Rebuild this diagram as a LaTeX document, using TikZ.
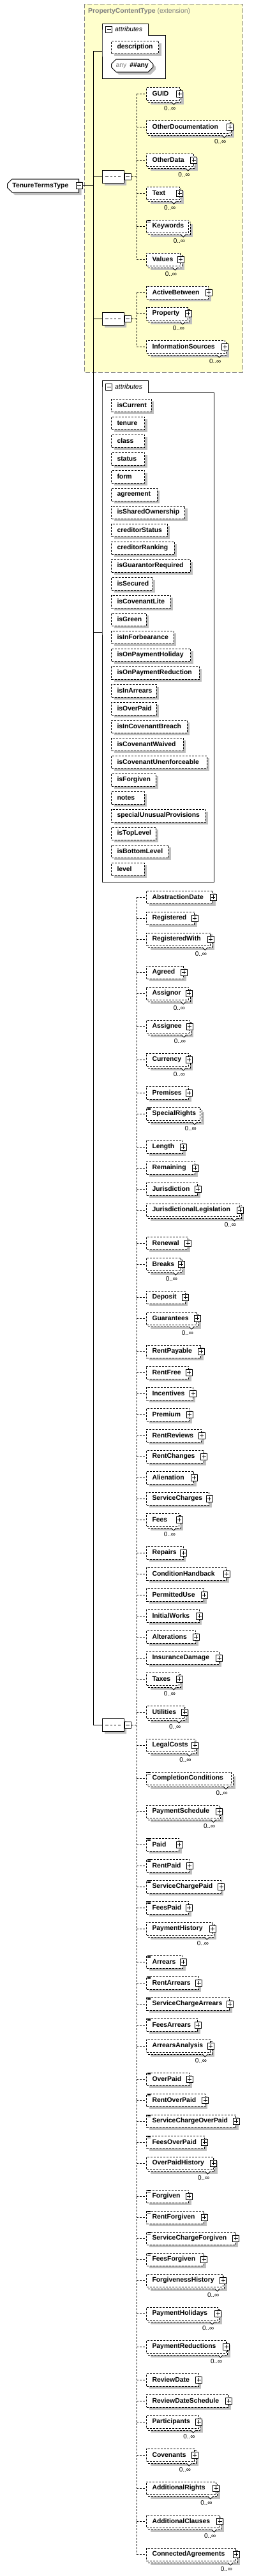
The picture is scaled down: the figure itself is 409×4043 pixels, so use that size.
\documentclass[tikz,border=0pt]{standalone}
\usepackage{tikz}
\usepackage{xcolor}
\usepackage{fontspec}
\setmainfont{Liberation Sans}
\usetikzlibrary{shapes.misc, positioning, calc, shadows}

\definecolor{shadegray}{RGB}{192,192,192}
\definecolor{extyellow}{RGB}{255,255,204}
\definecolor{extgray}{RGB}{128,128,128}

% optional element with its expand box
\newcommand{\elone}[3]{%
  \pgfmathsetmacro\ew{#3-247}
  \node[elem] (#1) at (229,#2) {\makebox[\ew pt][l]{#1}};
  \node[plusbox] (#1p) at (#1.east) {};
}
% repeated element (0..unbounded), no expand box
\newcommand{\elmany}[3]{%
  \pgfmathsetmacro\ew{#3-247}
  \fill[shadegray] (236,#2-3) rectangle (#3+7,#2+17);
  \draw[backbox] (232,#2-7) rectangle (#3+3,#2+13);
  \draw[notch] (#3-12,#2+13) -- (#3-8,#2+17) -- (#3-4,#2+13);
  \node[elemtop] (#1) at (229,#2) {\makebox[\ew pt][l]{#1}};
  \node[occurs] (#1o) at (#3-5,#2+23) {0..∞};
}
% repeated element with expand box
\newcommand{\elmanyplus}[3]{\elmany{#1}{#2}{#3}\node[plusbox] (#1p) at (#1.east) {};}
% simple content mark
\newcommand{\simplemark}[1]{%
  \foreach \dy in {0.5,2,3.5}
    \draw[icon] ([shift={(2,\dy)}]#1.north west) -- ++(5,0);
}
% attribute
\newcommand{\attrib}[3]{%
  \pgfmathsetmacro\aw{#3-192}
  \node[elem] (#1) at (174,#2) {\makebox[\aw pt][l]{#1}};
}

\begin{document}
\begin{tikzpicture}[x=1pt, y=-1pt]
    \tikzstyle{conn} = [line width=1pt]
    \tikzstyle{dashy} = [line width=1pt, dash pattern=on 3pt off 2pt]
    \tikzstyle{boxbase} = [draw, fill=white, anchor=west, minimum height=20pt, inner xsep=9pt, inner ysep=0pt, font=\fontsize{10.4}{12}\selectfont\bfseries]
    \tikzstyle{elemtop} = [boxbase, dashy]
    \tikzstyle{elem} = [elemtop, general shadow={fill=shadegray, shadow xshift=4pt, shadow yshift=-4pt}]
    \tikzstyle{backbox} = [dashy, fill=white]
    \tikzstyle{notch} = [line width=0.8pt, fill=white]
    \tikzstyle{occurs} = [anchor=east, inner sep=0pt, font=\fontsize{10}{12}\selectfont]
    \tikzstyle{icon} = [line width=0.6pt]
    \tikzstyle{plusbox} = [draw, fill=white, conn, minimum size=10pt, inner sep=0pt, path picture={\draw[conn] ([xshift=-3pt]path picture bounding box.center) -- ([xshift=3pt]path picture bounding box.center) ([yshift=-3pt]path picture bounding box.center) -- ([yshift=3pt]path picture bounding box.center);}]
    \tikzstyle{minusbox} = [draw, fill=white, conn, minimum size=10pt, inner sep=0pt, path picture={\draw[conn] ([xshift=-3pt]path picture bounding box.center) -- ([xshift=3pt]path picture bounding box.center);}]
    \tikzstyle{seqbox} = [chamfered rectangle, chamfered rectangle xsep=5pt, draw, fill=white, conn, minimum width=34pt, minimum height=20pt, inner sep=0pt, general shadow={fill=shadegray, shadow xshift=4pt, shadow yshift=-4pt}, path picture={\draw[conn] ([xshift=-12pt]path picture bounding box.center) -- ([xshift=12pt]path picture bounding box.center); \foreach \dx in {-6,0,6} {\fill ([xshift=\dx pt]path picture bounding box.center) ++(-1.5,-1.5) rectangle ++(3,3);}}]
    \tikzstyle{rootbox} = [chamfered rectangle, chamfered rectangle corners={north west,south west}, chamfered rectangle xsep=4pt, draw, fill=white, conn, anchor=west, minimum width=106pt, minimum height=21pt, inner xsep=4pt, inner ysep=0pt, font=\fontsize{10.4}{12}\selectfont\bfseries, general shadow={fill=shadegray, shadow xshift=4pt, shadow yshift=-4pt}]
    \tikzstyle{anybox} = [chamfered rectangle, chamfered rectangle xsep=4pt, draw, fill=white, conn, anchor=west, minimum width=65pt, minimum height=20pt, inner xsep=3pt, inner ysep=0pt, font=\fontsize{10.4}{12}\selectfont\bfseries, general shadow={fill=shadegray, shadow xshift=4pt, shadow yshift=-4pt}]
    \tikzstyle{extbox} = [draw=extgray, fill=extyellow, line width=1pt, dash pattern=on 7pt off 3pt]
    \tikzstyle{grp} = [draw, fill=white, conn]
    \tikzstyle{grptitle} = [anchor=west, inner sep=0pt, font=\fontsize{10.4}{12}\selectfont\itshape]
    \useasboundingbox (0,0) rectangle (409,4043);

    % base type frame
    \draw[extbox] (132,6) rectangle (380,584);
    \node[anchor=west, inner sep=0pt, text=extgray, font=\fontsize{10.4}{12}\selectfont] (ext) at (138,18) {\textbf{PropertyContentType} (extension)};

    % attributes of the base type
    \draw[grp] (160,55) -- (160,37) -- (232,37) -- (232,55) -- (259,55) -- (259,123) -- (160,123) -- cycle;
    \node[minusbox] (grp1m) at (170.5,46) {};
    \node[grptitle] (grp1) at (180,46) {attributes};
    \attrib{description}{74}{248}
    \node[anybox] (anyattr) at (174,103) {{\mdseries\textcolor{extgray}{any}}\hspace{5pt}\#\#any};

    % root
    \node[rootbox] (root) at (11,291.5) {\makebox[96pt][l]{TenureTermsType}};
    \node[minusbox] (rootm) at (root.east) {};

    % compositors
    \node[seqbox] (sq1) at (177,277) {};
    \node[minusbox, anchor=west] (sq1m) at (sq1.east) {};
    \node[seqbox] (sq2) at (177,500) {};
    \node[minusbox, anchor=west] (sq2m) at (sq2.east) {};
    \node[seqbox] (sq3) at (177,2707) {};
    \node[minusbox, anchor=west] (sq3m) at (sq3.east) {};

    % first sequence
    \elmanyplus{GUID}{147}{280.5}
    \elmanyplus{OtherDocumentation}{199}{359.5}
    \elmanyplus{OtherData}{251}{302.7}
    \elmanyplus{Text}{303}{280.5}
    \elmany{Keywords}{355}{295.3}
    \simplemark{Keywords}
    \elmanyplus{Values}{407}{282.3}

    % second sequence
    \elone{ActiveBetween}{459}{326.3}
    \elmanyplus{Property}{492}{294.2}
    \elmanyplus{InformationSources}{544}{351.5}

    % own attributes
    \draw[grp] (160,616) -- (160,597) -- (232,597) -- (232,616) -- (335,616) -- (335,1384) -- (160,1384) -- cycle;
    \node[minusbox] (grp2m) at (170.5,607) {};
    \node[grptitle] (grp2) at (180,607) {attributes};
    \attrib{isCurrent}{636}{236.7}
    \attrib{tenure}{664}{226}
    \attrib{class}{692}{226}
    \attrib{status}{720}{226}
    \attrib{form}{748}{226}
    \attrib{agreement}{776}{245.7}
    \attrib{isSharedOwnership}{804}{289.3}
    \attrib{creditorStatus}{832}{261.7}
    \attrib{creditorRanking}{860}{272.7}
    \attrib{isGuarantorRequired}{888}{297.7}
    \attrib{isSecured}{916}{238.7}
    \attrib{isCovenantLite}{944}{266.7}
    \attrib{isGreen}{972}{228.7}
    \attrib{isInForbearance}{1000}{271.7}
    \attrib{isOnPaymentHoliday}{1028}{298.3}
    \attrib{isOnPaymentReduction}{1056}{311.7}
    \attrib{isInArrears}{1084}{244.7}
    \attrib{isOverPaid}{1112}{244.7}
    \attrib{isInCovenantBreach}{1140}{292.7}
    \attrib{isCovenantWaived}{1168}{286.7}
    \attrib{isCovenantUnenforceable}{1196}{323.7}
    \attrib{isForgiven}{1224}{243.7}
    \attrib{notes}{1252}{225.7}
    \attrib{specialUnusualProvisions}{1280}{321.7}
    \attrib{isTopLevel}{1308}{243.7}
    \attrib{isBottomLevel}{1336}{263.7}
    \attrib{level}{1364}{225.7}

    % third sequence
    \elone{AbstractionDate}{1408}{333.3}
    \elone{Registered}{1441}{304.3}
    \elmanyplus{RegisteredWith}{1474}{329.3}
    \elone{Agreed}{1526}{287.3}
    \elmanyplus{Assignor}{1559}{295.3}
    \elmanyplus{Assignee}{1611}{296.2}
    \elmanyplus{Currency}{1663}{295.3}
    \elone{Premises}{1715}{295.3}
    \elmany{SpecialRights}{1748}{313}
    \simplemark{SpecialRights}
    \elone{Length}{1800}{286.3}
    \elone{Remaining}{1833}{305.2}
    \elone{Jurisdiction}{1866}{309.3}
    \elmanyplus{JurisdictionalLegislation}{1899}{375.3}
    \elone{Renewal}{1951}{293.7}
    \elmanyplus{Breaks}{1984}{283.3}
    \elone{Deposit}{2036}{289.5}
    \elmanyplus{Guarantees}{2069}{308.2}
    \elone{RentPayable}{2121}{314.2}
    \elone{RentFree}{2154}{295.3}
    \elone{Incentives}{2187}{301.7}
    \elone{Premium}{2220}{296.2}
    \elone{RentReviews}{2253}{315.2}
    \elone{RentChanges}{2286}{318.5}
    \elone{Alienation}{2319}{303.2}
    \elone{ServiceCharges}{2352}{327.2}
    \elmanyplus{Fees}{2385}{280.2}
    \elone{Repairs}{2437}{286.8}
    \elone{ConditionHandback}{2470}{354.2}
    \elone{PermittedUse}{2503}{319.2}
    \elone{InitialWorks}{2536}{311.5}
    \elone{Alterations}{2569}{306.2}
    \elone{InsuranceDamage}{2602}{342.5}
    \elmanyplus{Taxes}{2635}{280.2}
    \elmanyplus{Utilities}{2687}{288.5}
    \elmanyplus{LegalCosts}{2739}{304.8}
    \elmany{CompletionConditions}{2791}{362}
    \simplemark{CompletionConditions}
    \elmanyplus{PaymentSchedule}{2843}{342.5}
    \elone{Paid}{2895}{280.2}
    \elone{RentPaid}{2928}{296.2}
    \elone{ServiceChargePaid}{2961}{345.5}
    \elone{FeesPaid}{2994}{295.3}
    \elmanyplus{PaymentHistory}{3027}{332.3}
    \elone{Arrears}{3079}{286.2}
    \elone{RentArrears}{3112}{310.5}
    \elone{ServiceChargeArrears}{3145}{359.2}
    \elone{FeesArrears}{3178}{309.3}
    \elmanyplus{ArrearsAnalysis}{3211}{329.3}
    \elone{OverPaid}{3263}{296.2}
    \elone{RentOverPaid}{3296}{320.5}
    \elone{ServiceChargeOverPaid}{3329}{369.2}
    \elone{FeesOverPaid}{3362}{319.5}
    \elmanyplus{OverPaidHistory}{3395}{333.5}
    \elone{Forgiven}{3447}{295.2}
    \elone{RentForgiven}{3480}{319.2}
    \elone{ServiceChargeForgiven}{3513}{368.5}
    \elone{FeesForgiven}{3546}{318.5}
    \elmanyplus{ForgivenessHistory}{3579}{348.5}
    \elmanyplus{PaymentHolidays}{3631}{340.5}
    \elmanyplus{PaymentReductions}{3683}{353.5}
    \elone{ReviewDate}{3735}{310.5}
    \elone{ReviewDateSchedule}{3768}{357.5}
    \elmanyplus{Participants}{3801}{310.8}
    \elmanyplus{Covenants}{3853}{304.3}
    \elmanyplus{AdditionalRights}{3905}{337.8}
    \elmanyplus{AdditionalClauses}{3957}{343.5}
    \elmanyplus{ConnectedAgreements}{4009}{369.2}
    \foreach \n in {Paid,RentPaid,ServiceChargePaid,FeesPaid,Arrears,RentArrears,ServiceChargeArrears,FeesArrears,OverPaid,RentOverPaid,ServiceChargeOverPaid,FeesOverPaid,Forgiven,RentForgiven,ServiceChargeForgiven,FeesForgiven}
        {\simplemark{\n}}

    % trunk
    \coordinate (trunk) at (146,80);
    \coordinate (grp1in) at (160,80);
    \coordinate (grp2in) at (160,992);
    \draw[conn] (grp1in) -- (trunk) -- (trunk |- sq3.west) -- (sq3.west);
    \draw[conn] (rootm.east) -- (rootm.east -| trunk);
    \draw[conn] (sq1.west -| trunk) -- (sq1.west);
    \draw[conn] (sq2.west -| trunk) -- (sq2.west);
    \draw[conn] (grp2in -| trunk) -- (grp2in);

    % sequence buses
    \coordinate (bus1) at (214,277);
    \draw[dashy] (sq1m.east) -- (bus1);
    \draw[dashy] (GUID.west -| bus1) -- (Values.west -| bus1);
    \foreach \n in {GUID,OtherDocumentation,OtherData,Text,Keywords,Values}
        \draw[dashy] (\n.west -| bus1) -- (\n.west);

    \coordinate (bus2) at (214,500);
    \draw[dashy] (sq2m.east) -- (bus2);
    \draw[dashy] (ActiveBetween.west -| bus2) -- (InformationSources.west -| bus2);
    \foreach \n in {ActiveBetween,Property,InformationSources}
        \draw[dashy] (\n.west -| bus2) -- (\n.west);

    \coordinate (bus3) at (214,2707);
    \draw[dashy] (sq3m.east) -- (bus3);
    \draw[dashy] (AbstractionDate.west -| bus3) -- (ConnectedAgreements.west -| bus3);
    \foreach \n in {AbstractionDate,Registered,RegisteredWith,Agreed,Assignor,Assignee,Currency,Premises,SpecialRights,Length,Remaining,Jurisdiction,JurisdictionalLegislation,Renewal,Breaks,Deposit,Guarantees,RentPayable,RentFree,Incentives,Premium,RentReviews,RentChanges,Alienation,ServiceCharges,Fees,Repairs,ConditionHandback,PermittedUse,InitialWorks,Alterations,InsuranceDamage,Taxes,Utilities,LegalCosts,CompletionConditions,PaymentSchedule,Paid,RentPaid,ServiceChargePaid,FeesPaid,PaymentHistory,Arrears,RentArrears,ServiceChargeArrears,FeesArrears,ArrearsAnalysis,OverPaid,RentOverPaid,ServiceChargeOverPaid,FeesOverPaid,OverPaidHistory,Forgiven,RentForgiven,ServiceChargeForgiven,FeesForgiven,ForgivenessHistory,PaymentHolidays,PaymentReductions,ReviewDate,ReviewDateSchedule,Participants,Covenants,AdditionalRights,AdditionalClauses,ConnectedAgreements}
        \draw[dashy] (\n.west -| bus3) -- (\n.west);
\end{tikzpicture}
\end{document}
